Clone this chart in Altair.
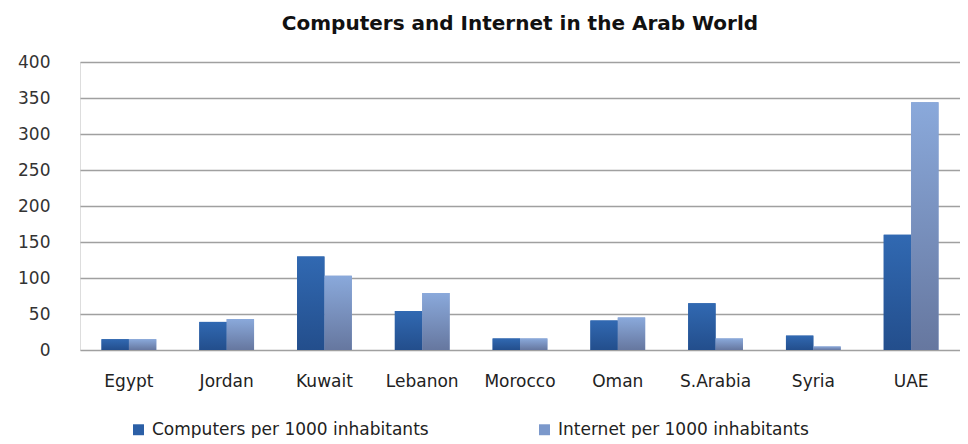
import altair as alt
import pandas as pd

countries = ["Egypt", "Jordan", "Kuwait", "Lebanon", "Morocco", "Oman", "S.Arabia", "Syria", "UAE"]
series_names = ["Computers per 1000 inhabitants", "Internet per 1000 inhabitants"]
computers = [15, 39, 130, 54, 16, 41, 65, 20, 160]
internet = [15, 43, 103, 79, 16, 45, 16, 5, 344]
y_ticks = [0, 50, 100, 150, 200, 250, 300, 350, 400]
solid_colors = ["#2B5FA6", "#7B98CB"]

rows = []
for c, v in zip(countries, computers):
    rows.append({"country": c, "series": series_names[0], "value": v})
for c, v in zip(countries, internet):
    rows.append({"country": c, "series": series_names[1], "value": v})
df = pd.DataFrame(rows)

FONT = "DejaVu Sans"

base = alt.Chart(df).encode(
    x=alt.X("country:N", sort=countries, title=None,
            scale=alt.Scale(paddingInner=0.44, paddingOuter=0.22),
            axis=alt.Axis(labelAngle=0, ticks=False, domain=False, labelPadding=23,
                          labelFontSize=17, labelColor="#222222", labelFont=FONT)),
    xOffset=alt.XOffset("series:N", sort=series_names,
                        scale=alt.Scale(paddingInner=0, paddingOuter=0)),
    y=alt.Y("value:Q", title=None, scale=alt.Scale(domain=[0, 400], nice=False),
            axis=alt.Axis(values=y_ticks, ticks=False, domain=False, labelPadding=30,
                          labelFontSize=17, labelColor="#333333", labelFont=FONT,
                          gridColor="#A0A0A0", gridWidth=1.6, minExtent=72, maxExtent=72)),
)

solid = base.mark_bar().encode(
    color=alt.Color("series:N", sort=series_names,
                    scale=alt.Scale(domain=series_names, range=solid_colors),
                    legend=alt.Legend(title=None, orient="none", direction="horizontal",
                                      legendX=50, legendY=359, symbolType="square",
                                      symbolSize=120, symbolStrokeWidth=0, labelFontSize=17,
                                      labelFont=FONT, labelColor="#222222", labelLimit=400,
                                      columnPadding=107, labelOffset=5))
)

grad_comp = base.transform_filter(alt.datum.series == series_names[0]).mark_bar(
    color={"gradient": "linear", "x1": 0, "x2": 0, "y1": 0, "y2": 1,
           "stops": [{"offset": 0, "color": "#3169B2"}, {"offset": 1, "color": "#234E8C"}]}
)
grad_net = base.transform_filter(alt.datum.series == series_names[1]).mark_bar(
    color={"gradient": "linear", "x1": 0, "x2": 0, "y1": 0, "y2": 1,
           "stops": [{"offset": 0, "color": "#8AA9DB"}, {"offset": 1, "color": "#66779F"}]}
)

chart = alt.layer(solid, grad_comp, grad_net).properties(
    width=880, height=288,
    title=alt.TitleParams("Computers and Internet in the Arab World", fontSize=20,
                          font=FONT, fontWeight="bold", color="#111111", offset=19),
    padding={"left": 0, "top": 6, "right": 0, "bottom": 0},
).configure_view(stroke="#A0A0A0", strokeWidth=1.6).configure(background="white")

chart.save("out.html", embed_options={"renderer": "svg", "actions": False})
